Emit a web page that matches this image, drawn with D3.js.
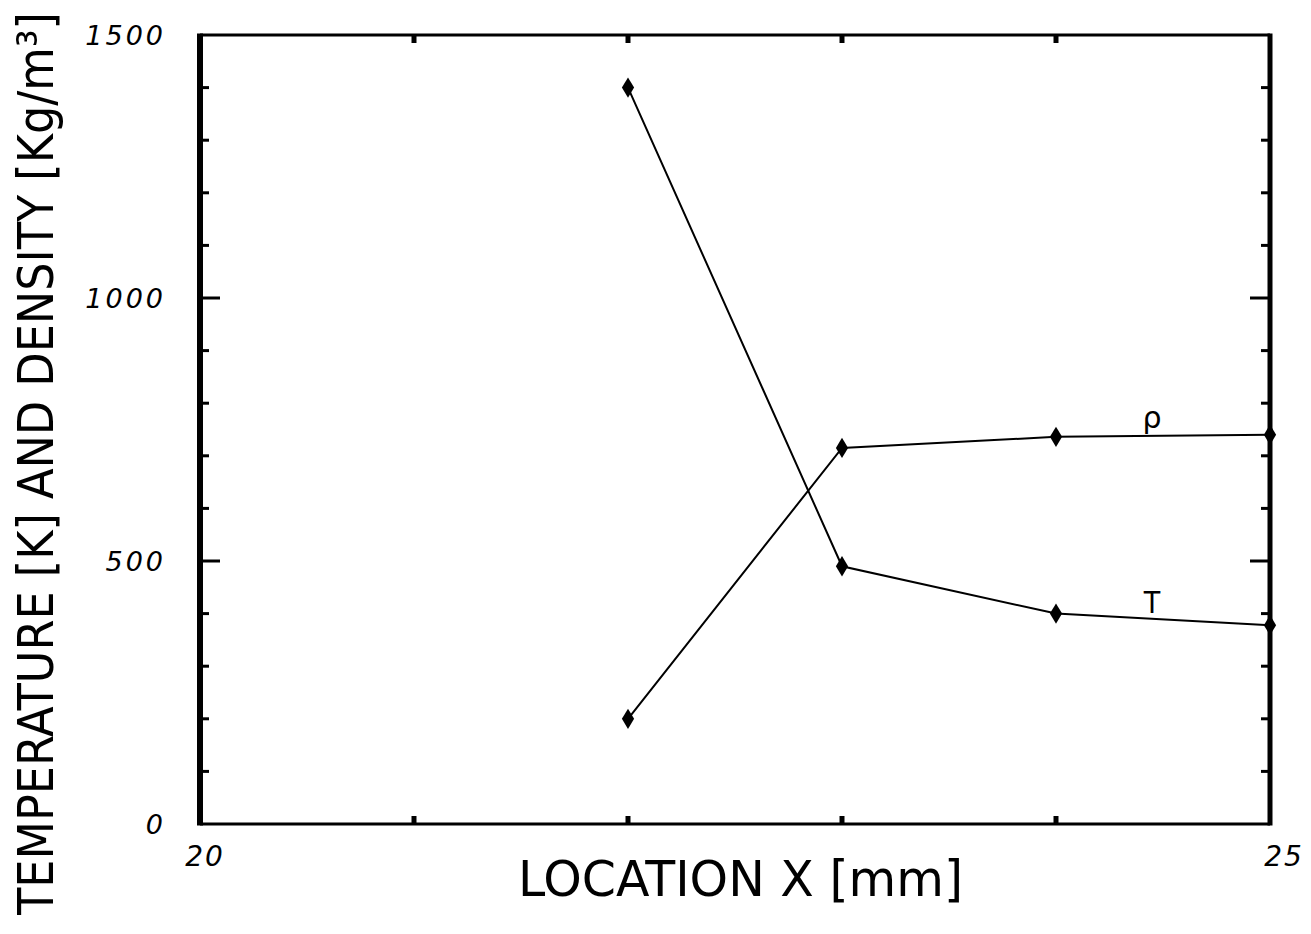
<!DOCTYPE html>
<html><head><meta charset="utf-8">
<script src="https://cdn.jsdelivr.net/npm/d3@7"></script>
<style>body{margin:0;background:#fff}svg{display:block}</style>
</head><body>
<svg id="c" width="1311" height="934"></svg>
<script>
const xLocation = [22, 23, 24, 25];
const temperature = [1400, 490, 400, 378];
const density = [200, 715, 736, 740];
const yTickLabels = [0, 500, 1000, 1500];
const xTickLabels = [20, 25];
const seriesNames = ["T", "\u03C1"];

const svg = d3.select("#c");
const L = 200, R = 1270, T = 35, B = 824;
const x = d3.scaleLinear().domain([20, 25]).range([L, R]);
const y = d3.scaleLinear().domain([0, 1500]).range([B, T]);

// frame
svg.append("line").attr("x1", L).attr("x2", R).attr("y1", T).attr("y2", T).attr("stroke", "#000").attr("stroke-width", 3);
svg.append("line").attr("x1", L).attr("x2", R).attr("y1", B).attr("y2", B).attr("stroke", "#000").attr("stroke-width", 3);
svg.append("line").attr("x1", L).attr("x2", L).attr("y1", T - 1.5).attr("y2", B + 1.5).attr("stroke", "#000").attr("stroke-width", 6);
svg.append("line").attr("x1", R).attr("x2", R).attr("y1", T - 1.5).attr("y2", B + 1.5).attr("stroke", "#000").attr("stroke-width", 5);

// y ticks (inward) on left and right
const yt = d3.range(100, 1500, 100);
const tk = svg.append("g").attr("stroke", "#000").attr("stroke-width", 3);
yt.forEach(v => {
  const major = v % 500 === 0;
  const len = major ? 20 : 9;
  tk.append("line").attr("x1", L).attr("x2", L + len).attr("y1", y(v)).attr("y2", y(v));
  tk.append("line").attr("x1", R).attr("x2", R - len).attr("y1", y(v)).attr("y2", y(v));
});
// x ticks inward top and bottom
d3.range(21, 25).forEach(v => {
  tk.append("line").attr("x1", x(v)).attr("x2", x(v)).attr("y1", T).attr("y2", T + 8).attr("stroke-width", 5);
  tk.append("line").attr("x1", x(v)).attr("x2", x(v)).attr("y1", B).attr("y2", B - 8).attr("stroke-width", 5);
});

// tick labels
const tf = "'DejaVu Sans', sans-serif";
svg.selectAll(".yl").data(yTickLabels).enter().append("text")
  .attr("x", 166).attr("y", d => y(d) + 10)
  .attr("text-anchor", "end").attr("font-family", tf).attr("font-style", "italic")
  .attr("font-weight", 300)
  .attr("font-size", 27).attr("letter-spacing", 3).text(d => d);
svg.selectAll(".xl").data(xTickLabels).enter().append("text")
  .attr("x", d => x(d) + (d === 20 ? 5 : 14)).attr("y", 866)
  .attr("text-anchor", "middle").attr("font-family", tf).attr("font-style", "italic")
  .attr("font-weight", 300)
  .attr("font-size", 28).attr("letter-spacing", 2).text(d => d);

// lines
const line = d3.line().x((d, i) => x(xLocation[i])).y(d => y(d));
[temperature, density].forEach(s => {
  svg.append("path").attr("d", line(s)).attr("fill", "none").attr("stroke", "#000").attr("stroke-width", 2);
  svg.selectAll(null).data(s).enter().append("path")
    .attr("d", d3.symbol(d3.symbolDiamond, 90)())
    .attr("transform", (d, i) => `translate(${x(xLocation[i])},${y(d)}) scale(1.2,1.15)`)
    .attr("fill", "#000");
});

// series labels
svg.append("text").attr("x", 1152).attr("y", 613).attr("text-anchor", "middle")
  .attr("font-family", "'DejaVu Sans Condensed', sans-serif").attr("font-size", 30).text(seriesNames[0]);
svg.append("text").attr("x", 1152).attr("y", 428).attr("text-anchor", "middle")
  .attr("font-family", "'DejaVu Sans', sans-serif").attr("font-size", 30).text(seriesNames[1]);

// axis titles
const af = "'DejaVu Sans Condensed', 'DejaVu Sans', sans-serif";
svg.append("text").attr("transform", "translate(53,915) rotate(-90)")
  .attr("font-family", af).attr("font-size", 50).attr("font-weight", 300)
  .attr("textLength", 903).attr("lengthAdjust", "spacingAndGlyphs")
  .text("TEMPERATURE [K] AND DENSITY [Kg/m\u00B3]");
svg.append("text").attr("x", 518).attr("y", 896)
  .attr("font-family", af).attr("font-size", 50)
  .attr("textLength", 445).attr("lengthAdjust", "spacingAndGlyphs")
  .text("LOCATION  X  [mm]");
</script>
</body></html>
